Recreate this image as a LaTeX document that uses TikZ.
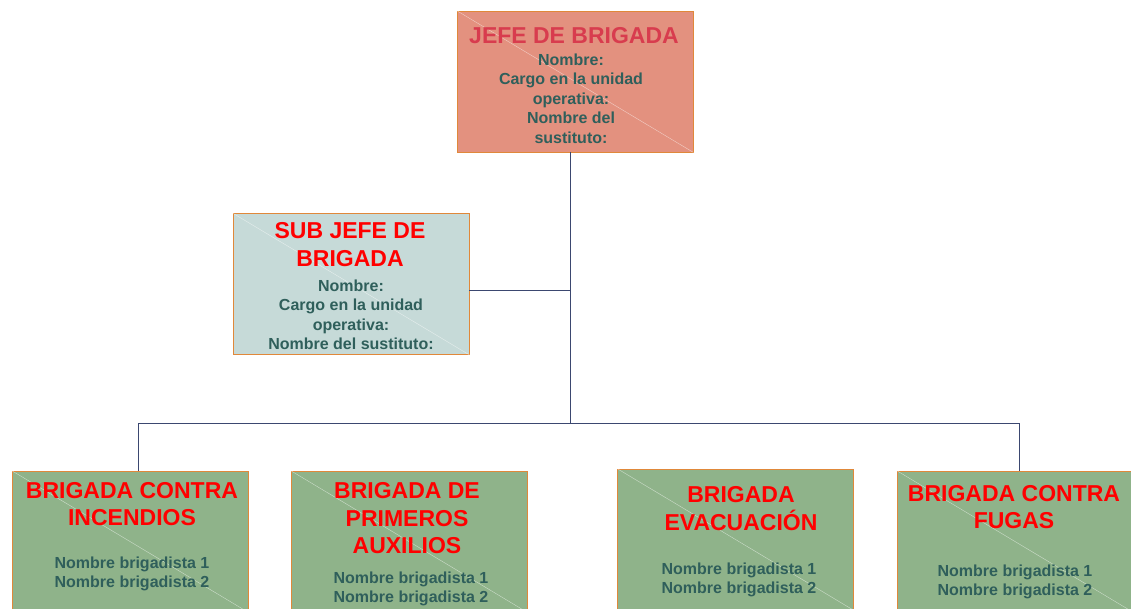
\documentclass[tikz,border=0pt]{standalone}
\usepackage{fontspec}
\setmainfont{Liberation Sans}
\usetikzlibrary{positioning}

\definecolor{jefefill}{HTML}{E3917F}
\definecolor{subfill}{HTML}{C6DAD8}
\definecolor{brigfill}{HTML}{8FB38A}
\definecolor{boxline}{HTML}{E0883A}
\definecolor{titlered}{HTML}{FF0000}
\definecolor{titlerose}{HTML}{D83C4E}
\definecolor{bodyteal}{HTML}{2F5F5B}
\definecolor{linkline}{HTML}{3B4770}

\tikzset{
  cargo/.style={draw=boxline, line width=0.9pt, minimum width=236pt, minimum height=141pt, inner sep=0pt},
  titulo/.style={text=titlered, font=\bfseries\fontsize{23}{27.5}\selectfont, align=center, inner sep=0pt},
  datos/.style={text=bodyteal, font=\bfseries\fontsize{16}{19.5}\selectfont, align=center, inner sep=0pt},
  diag/.style={white, line width=0.4pt, opacity=0.55},
  link/.style={linkline, line width=0.7pt}
}

\begin{document}
\begin{tikzpicture}[x=1pt,y=-1pt]
  \useasboundingbox (0,0) rectangle (1131,609);

  % cajas
  \node[cargo, fill=jefefill] (jefe) at (575,81.5) {};
  \node[cargo, fill=subfill] (subjefe) at (351,284) {};
  \node[cargo, fill=brigfill] (incendios) at (130,541.5) {};
  \node[cargo, fill=brigfill] (auxilios) at (409,541.5) {};
  \node[cargo, fill=brigfill] (evacuacion) at (735.5,539.5) {};
  \node[cargo, fill=brigfill] (fugas) at (1015,541.5) {};

  \foreach \b in {jefe,subjefe,incendios,auxilios,evacuacion,fugas}
    \draw[diag] (\b.north west) -- (\b.south east);

  % textos
  \node[titulo, text=titlerose] (jefe_t) at (574,36) {JEFE DE BRIGADA};
  \node[datos] (jefe_d) at (571,98.5) {Nombre:\\Cargo en la unidad\\operativa:\\Nombre del\\sustituto:};
  \node[titulo] (subjefe_t) at (350,244.5) {SUB JEFE DE\\BRIGADA};
  \node[datos] (subjefe_d) at (351,315) {Nombre:\\Cargo en la unidad\\operativa:\\Nombre del sustituto:};
  \node[titulo] (incendios_t) at (132,504) {BRIGADA CONTRA\\INCENDIOS};
  \node[datos] (incendios_d) at (132,574) {Nombre brigadista 1\\Nombre brigadista 2};
  \node[titulo] (auxilios_t) at (407,518.5) {BRIGADA DE\\PRIMEROS\\AUXILIOS};
  \node[datos] (auxilios_d) at (411,589) {Nombre brigadista 1\\Nombre brigadista 2};
  \node[titulo] (evacuacion_t) at (741,508.5) {BRIGADA\\EVACUACIÓN};
  \node[datos] (evacuacion_d) at (739,580) {Nombre brigadista 1\\Nombre brigadista 2};
  \node[titulo] (fugas_t) at (1014,507) {BRIGADA CONTRA\\FUGAS};
  \node[datos] (fugas_d) at (1015,582) {Nombre brigadista 1\\Nombre brigadista 2};

  % conectores
  \coordinate (eje) at (570,290);
  \coordinate (reparto) at (570,423);
  \draw[link] (jefe.south -| eje) -- (reparto);
  \draw[link] (subjefe.east |- eje) -- (eje);
  \draw[link] (reparto) -| (incendios.north -| 138,0);
  \draw[link] (reparto) -| (fugas.north -| 1019,0);
  \draw[link] (auxilios.north -| 408,423) -- (auxilios.north -| 408,0);
  \draw[link] (evacuacion.north -| 740,423) -- (evacuacion.north -| 740,0);
\end{tikzpicture}
\end{document}
